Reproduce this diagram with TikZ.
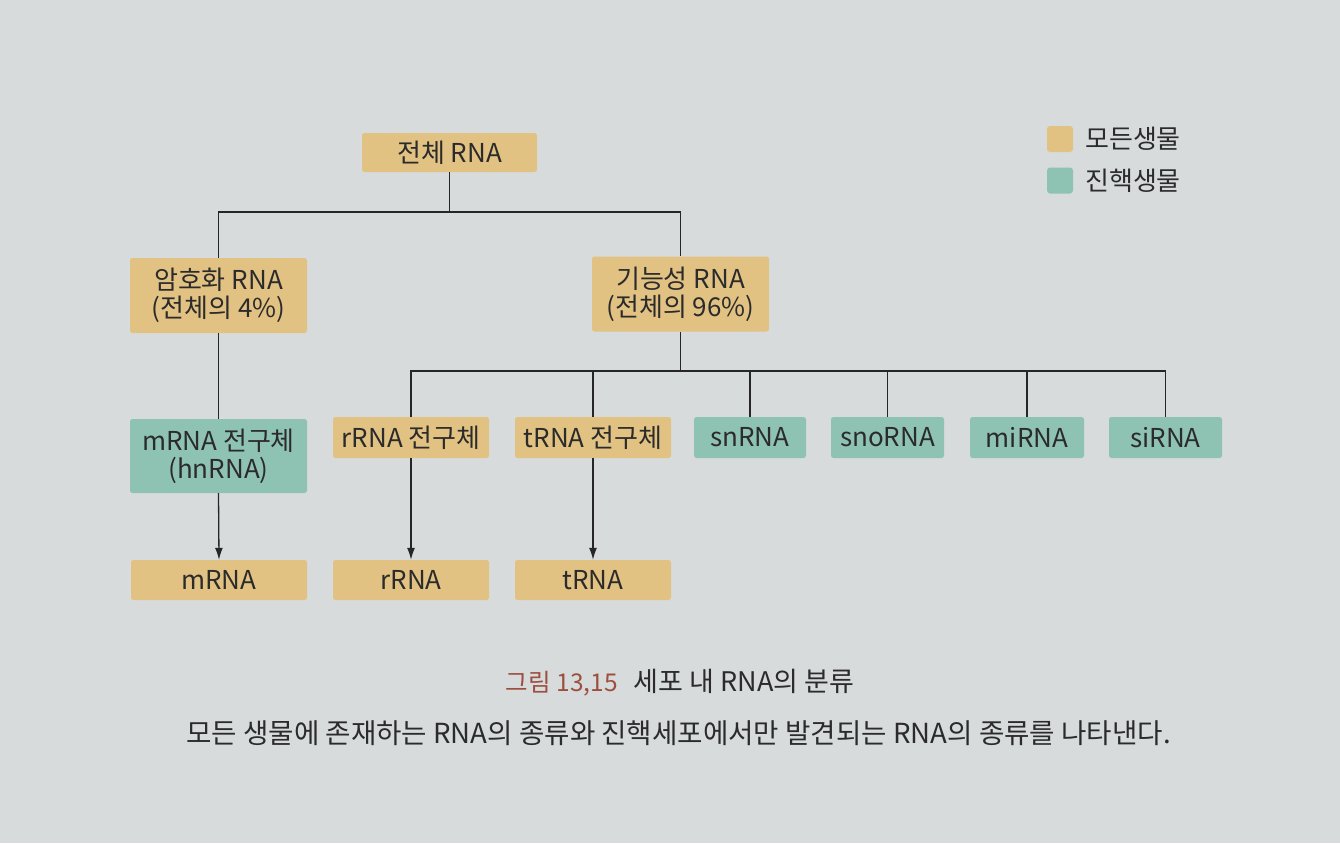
\documentclass[tikz,border=0pt]{standalone}
\usepackage{fontspec}
\setmainfont{Noto Sans CJK KR}
\usetikzlibrary{arrows.meta}
\definecolor{bg}{HTML}{D7DBDC}
\definecolor{allc}{HTML}{E2C283}
\definecolor{euk}{HTML}{8EC2B3}
\definecolor{txt}{HTML}{2B2B2B}
\definecolor{capred}{HTML}{9C4F3F}
\begin{document}
\begin{tikzpicture}[x=1pt,y=-1pt,
  box/.style={rounded corners=2.5pt, inner sep=0pt, text=txt, font=\fontsize{26}{28}\selectfont, align=center},
  allbox/.style={box, fill=allc},
  eukbox/.style={box, fill=euk},
  conn/.style={draw=black!85, line width=1.3pt},
  arr/.style={conn, -{Latex[length=12pt,width=8pt]}},
  legbox/.style={rounded corners=3pt, inner sep=0pt, minimum size=26pt},
  legtxt/.style={anchor=west, inner sep=0pt, text=txt, font=\fontsize{26}{28}\selectfont}
]
\fill[bg] (0,0) rectangle (1340,843);
\useasboundingbox (0,0) rectangle (1340,843);

% level 0
\node[allbox, minimum width=175pt, minimum height=39pt] (total) at (449.5,152.5) {전체 RNA};
% level 1
\node[allbox, minimum width=177pt, minimum height=75pt] (code) at (218.5,295.5) {암호화 RNA\\(전체의 4\%)};
\node[allbox, minimum width=177pt, minimum height=75pt] (func) at (680.5,294) {기능성 RNA\\(전체의 96\%)};
% level 2
\node[eukbox, minimum width=177pt, minimum height=74pt] (mpre) at (218.5,456) {mRNA 전구체\\(hnRNA)};
\node[allbox, minimum width=156pt, minimum height=41pt] (rpre) at (411,437.5) {rRNA 전구체};
\node[allbox, minimum width=156pt, minimum height=41pt] (tpre) at (593,437.5) {tRNA 전구체};
\node[eukbox, minimum width=112pt, minimum height=41pt] (sn) at (750,437.5) {snRNA};
\node[eukbox, minimum width=113pt, minimum height=41pt] (sno) at (887.5,437.5) {snoRNA};
\node[eukbox, minimum width=114pt, minimum height=41pt] (mi) at (1027,437.5) {miRNA};
\node[eukbox, minimum width=113pt, minimum height=41pt] (si) at (1165.5,437.5) {siRNA};
% level 3
\node[allbox, minimum width=176pt, minimum height=40pt] (m) at (219,580) {mRNA};
\node[allbox, minimum width=156pt, minimum height=40pt] (r) at (411,580) {rRNA};
\node[allbox, minimum width=156pt, minimum height=40pt] (t) at (593,580) {tRNA};

% connectors
\coordinate (bar1) at (450,212);
\coordinate (bar2) at (681,371);
\draw[conn] (total.south) -- (total.south |- bar1);
\draw[conn] (code.north) |- (bar1) -| (func.north);
\draw[conn] (code.south) -- (mpre.north);
\draw[conn] (func.south) -- (func.south |- bar2);
\draw[conn] (rpre.north) |- (bar2) -| (si.north);
\draw[conn] (tpre.north) -- (tpre.north |- bar2);
\draw[conn] (sn.north) -- (sn.north |- bar2);
\draw[conn] (sno.north) -- (sno.north |- bar2);
\draw[conn] (mi.north) -- (mi.north |- bar2);
\draw[arr] (mpre.south) -- (m.north);
\draw[arr] (rpre.south) -- (r.north);
\draw[arr] (tpre.south) -- (t.north);

% legend
\node[legbox, fill=allc] (lga) at (1060,139) {};
\node[legbox, fill=euk] (lgb) at (1060,180.5) {};
\node[legtxt] (lgat) at (1085,139) {모든생물};
\node[legtxt] (lgbt) at (1085,180.5) {진핵생물};

% caption
\node[inner sep=0pt, text=txt, font=\fontsize{27}{30}\selectfont] (cap1) at (680,683)
  {{\color{capred}\fontsize{24.5}{28}\selectfont 그림 13,15}\hspace{16pt}세포 내 RNA의 분류};
\node[inner sep=0pt, text=txt, font=\fontsize{27.6}{30}\selectfont] (cap2) at (678.5,733)
  {모든 생물에 존재하는 RNA의 종류와 진핵세포에서만 발견되는 RNA의 종류를 나타낸다.};
\end{tikzpicture}
\end{document}
